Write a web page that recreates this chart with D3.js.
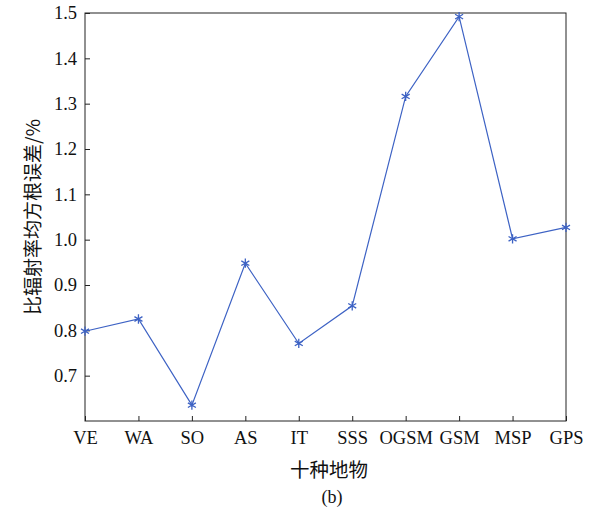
<!DOCTYPE html>
<html>
<head>
<meta charset="utf-8">
<script src="https://cdn.jsdelivr.net/npm/d3@7"></script>
<style>
  body { margin: 0; background: #fff; }
  svg text { font-family: "Liberation Serif", "Times New Roman", serif; fill: #111; }
  .cjk { font-family: "Noto Sans CJK SC", sans-serif; }
</style>
</head>
<body>
<svg id="chart" width="597" height="511"></svg>
<script>
// Line chart (b): RMSE of ratio radiance per ground-object type
const categories = ["VE", "WA", "SO", "AS", "IT", "SSS", "OGSM", "GSM", "MSP", "GPS"];
const errors = [0.798, 0.825, 0.635, 0.948, 0.771, 0.854, 1.316, 1.492, 1.002, 1.027];
const yTicks = [0.7, 0.8, 0.9, 1.0, 1.1, 1.2, 1.3, 1.4, 1.5];

const margin = { top: 13, right: 31, bottom: 90, left: 85 };
const width = 597, height = 511;
const innerW = width - margin.left - margin.right;
const innerH = height - margin.top - margin.bottom;

const svg = d3.select("#chart");
const g = svg.append("g").attr("transform", `translate(${margin.left},${margin.top})`);

const x = d3.scalePoint().domain(categories).range([0, innerW]);
const y = d3.scaleLinear().domain([0.6, 1.5]).range([innerH, 0]);

// frame
g.append("rect")
  .attr("width", innerW).attr("height", innerH)
  .attr("fill", "none").attr("stroke", "#222").attr("stroke-width", 1);

// x axis, ticks pointing inward
const xAxis = g.append("g")
  .attr("transform", `translate(0,${innerH})`)
  .call(d3.axisBottom(x).tickSizeInner(-5).tickSizeOuter(0).tickPadding(10));
xAxis.select(".domain").remove();
xAxis.selectAll("line").attr("stroke", "#222");
xAxis.selectAll("text").style("font-size", "18.5px").attr("fill", "#111");

// y axis
const yAxis = g.append("g")
  .call(d3.axisLeft(y).tickValues(yTicks).tickFormat(d3.format(".1f"))
    .tickSizeInner(-5).tickSizeOuter(0).tickPadding(8));
yAxis.select(".domain").remove();
yAxis.selectAll("line").attr("stroke", "#222");
yAxis.selectAll("text").style("font-size", "18.5px").attr("fill", "#111");

// line
const color = "#3d62c4";
g.append("path")
  .datum(errors)
  .attr("fill", "none")
  .attr("stroke", color)
  .attr("stroke-width", 1.2)
  .attr("d", d3.line().x((d, i) => x(categories[i])).y(d => y(d)));

// markers (asterisk)
const star = d3.symbol().type(d3.symbolAsterisk).size(60);
g.selectAll("path.mark")
  .data(errors)
  .join("path")
  .attr("class", "mark")
  .attr("transform", (d, i) => `translate(${x(categories[i])},${y(d)})`)
  .attr("d", star)
  .attr("fill", "none")
  .attr("stroke", color)
  .attr("stroke-width", 1.3);

// labels
svg.append("text")
  .attr("class", "cjk")
  .attr("transform", `translate(40,217) rotate(-90)`)
  .attr("text-anchor", "middle")
  .style("font-size", "19px")
  .text("比辐射率均方根误差/%");

svg.append("text")
  .attr("class", "cjk")
  .attr("x", 329).attr("y", 477)
  .attr("text-anchor", "middle")
  .style("font-size", "19.5px")
  .text("十种地物");

svg.append("text")
  .attr("x", 332).attr("y", 503)
  .attr("text-anchor", "middle")
  .style("font-size", "18px")
  .text("(b)");
</script>
</body>
</html>
